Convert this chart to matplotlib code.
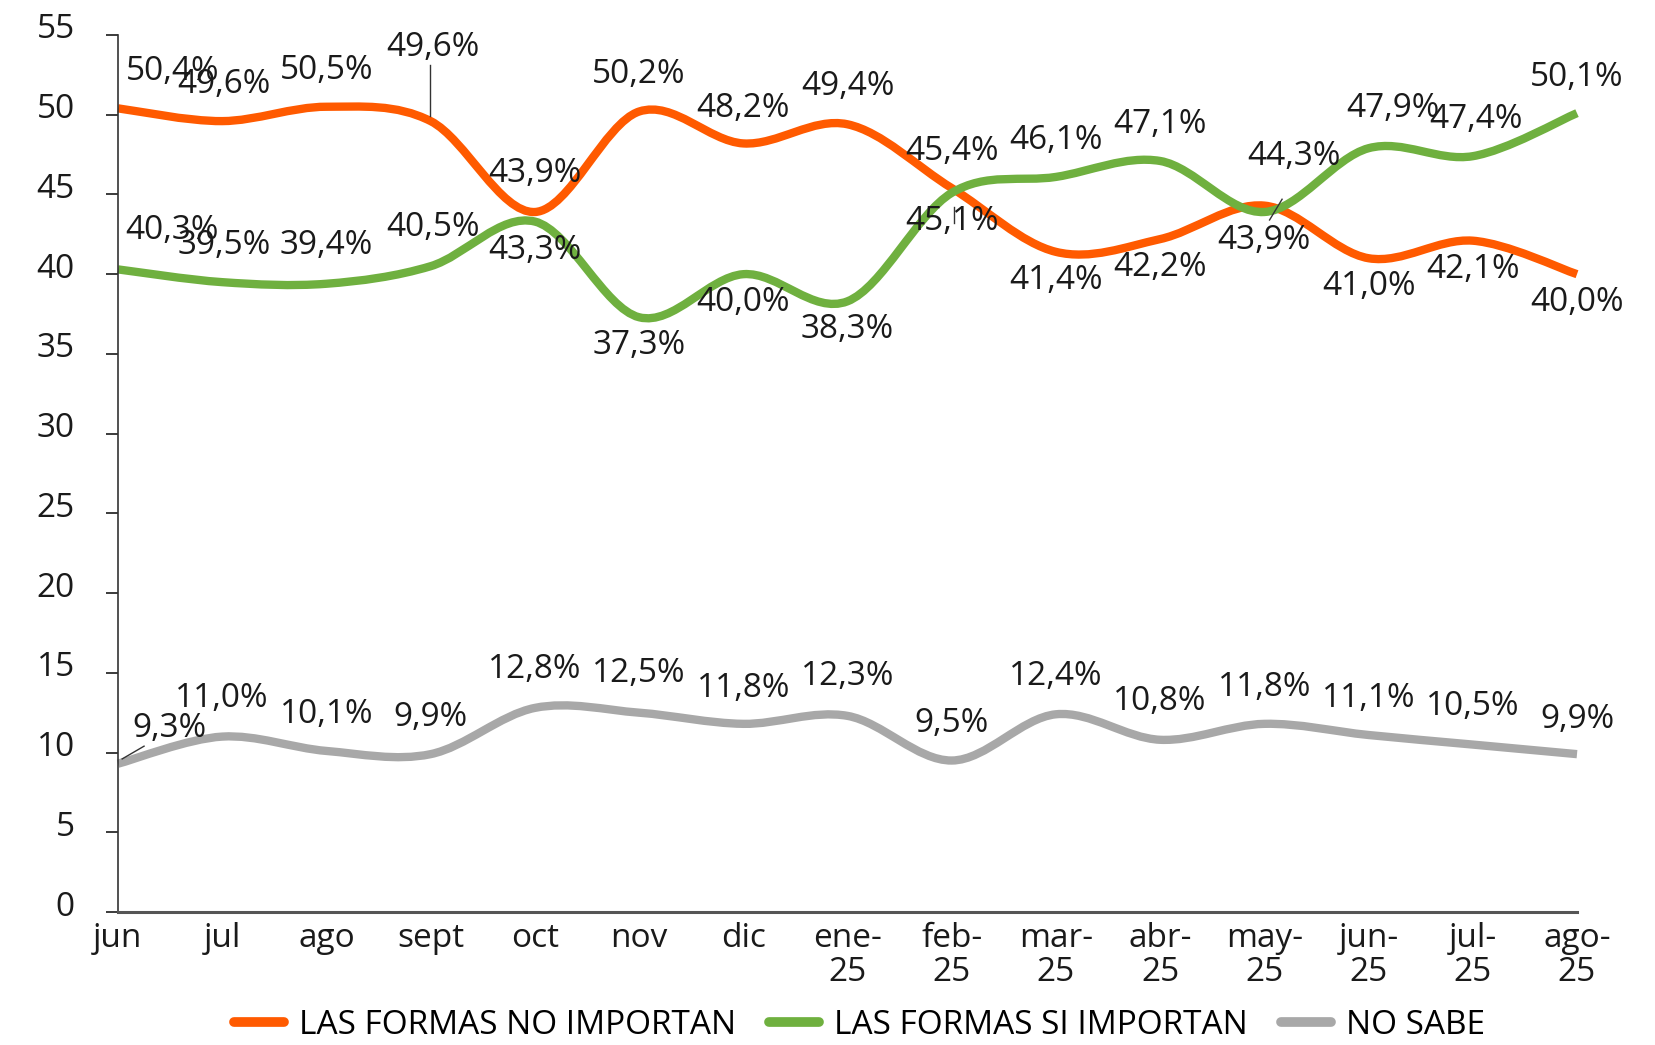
import matplotlib
matplotlib.use("Agg")
import matplotlib.pyplot as plt
from matplotlib.path import Path
from matplotlib.patches import PathPatch
from matplotlib.lines import Line2D
from matplotlib.transforms import ScaledTranslation
import numpy as np

plt.rcParams['font.family'] = ['Open Sans', 'DejaVu Sans']

### Data ###

months = ['jun', 'jul', 'ago', 'sept', 'oct', 'nov', 'dic', 'ene-\n25', 'feb-\n25',
          'mar-\n25', 'abr-\n25', 'may-\n25', 'jun-\n25', 'jul-\n25', 'ago-\n25']

no_importan = [50.4, 49.6, 50.5, 49.6, 43.9, 50.2, 48.2, 49.4, 45.4, 41.4, 42.2, 44.3, 41.0, 42.1, 40.0]
si_importan = [40.3, 39.5, 39.4, 40.5, 43.3, 37.3, 40.0, 38.3, 45.1, 46.1, 47.1, 43.9, 47.9, 47.4, 50.1]
no_sabe = [9.3, 11.0, 10.1, 9.9, 12.8, 12.5, 11.8, 12.3, 9.5, 12.4, 10.8, 11.8, 11.1, 10.5, 9.9]

series_names = ['LAS FORMAS NO IMPORTAN', 'LAS FORMAS SI IMPORTAN', 'NO SABE']
colors = ['#FF5A00', '#6FB03F', '#A8A8A8']

FS = 24

# label placement (dx in months, dy in %-points), A = above, B = below
A, B = 2.3, -1.8
orange_off = [(0.52, A), (0.02, A), (0, A), (0.02, 4.6), (0, 2.4), (0, A), (0, 2.2), (0, 2.4),
              (0, A), (0, B), (0, B), (0.28, 3.1), (0, B), (0, B), (0, B)]
green_off = [(0.52, 2.45), (0.02, A), (0, 2.4), (0.02, 2.45), (0, B), (0, B), (0, B), (0, B),
             (0, B), (0, A), (0, A), (0, B), (0.23, 2.5), (0.03, A), (0, 2.25)]
gray_off = [(0.49, 2.2), (0, 2.4), (0, A), (0, A), (0, 2.4), (0, 2.45), (0, 2.2), (0, 2.5),
            (0, A), (0, 2.4), (0, 2.4), (0, A), (0, A), (0, 2.4), (0, 2.2)]


### Functions ###

def smooth_path(xs, ys):
    """ Excel-like smoothed line: Catmull-Rom segments written as cubic Beziers.
    """
    pts = np.column_stack([xs, ys]).astype(float)
    ext = np.vstack([pts[0], pts, pts[-1]])
    verts = [pts[0]]
    codes = [Path.MOVETO]
    for i in range(len(pts) - 1):
        p0, p1, p2, p3 = ext[i], ext[i + 1], ext[i + 2], ext[i + 3]
        c1 = p1 + (p2 - p0) / 6.0
        c2 = p2 - (p3 - p1) / 6.0
        verts += [c1, c2, p2]
        codes += [Path.CURVE4] * 3
    return Path(verts, codes)


def label_series(ax, xs, ys, offsets):
    for x, y, (dx, dy) in zip(xs, ys, offsets):
        txt = f"{y:.1f}%".replace('.', ',')
        ax.text(x + dx, y + dy, txt, ha='center', va='center', fontsize=FS, color='#1a1a1a')


### Plot ###

fig = plt.figure(figsize=(16.56, 10.45), dpi=100)
ax = fig.add_axes([118 / 1656, 1 - 912 / 1045, (1577 - 118) / 1656, (912 - 35) / 1045])

x = np.arange(len(months))
all_series = [no_importan, si_importan, no_sabe]
all_offsets = [orange_off, green_off, gray_off]

for ys, col, offs in zip(all_series, colors, all_offsets):
    patch = PathPatch(smooth_path(x, ys), facecolor='none', edgecolor=col, lw=6,
                      capstyle='butt', joinstyle='round', clip_on=False)
    ax.add_patch(patch)
    label_series(ax, x, ys, offs)

# leader lines
ax.plot([2.99, 2.99], [53.1, 49.9], color='#333333', lw=1)
ax.plot([11.17, 11.05], [44.7, 43.4], color='#333333', lw=1)
ax.plot([8.02, 8.02], [44.2, 43.2], color='#333333', lw=1)
ax.plot([0.25, 0.04], [10.4, 9.6], color='#333333', lw=1)

ax.set_xlim(0, 14)
ax.set_ylim(0, 55)
ax.set_yticks(np.arange(0, 56, 5))
ax.set_xticks(x)
ax.set_xticklabels(months, fontsize=FS, linespacing=1.05)
ax.tick_params(axis='x', length=0, pad=7, colors='#1a1a1a')
ax.tick_params(axis='y', labelsize=FS, length=9, width=1.2, pad=22, colors='#1a1a1a')

shift = ScaledTranslation(0, 9 / 100, fig.dpi_scale_trans)
for lab in ax.get_yticklabels():
    lab.set_transform(lab.get_transform() + shift)

for side in ['top', 'right']:
    ax.spines[side].set_visible(False)
ax.spines['left'].set_color('#333333')
ax.spines['left'].set_linewidth(1.2)
ax.spines['bottom'].set_color('#555555')
ax.spines['bottom'].set_linewidth(2.2)

handles = [Line2D([], [], color=c, lw=7, solid_capstyle='round') for c in colors]
fig.legend(handles, series_names, loc='center', bbox_to_anchor=(0.519, 0.019), ncol=3,
           frameon=False, fontsize=FS, handlelength=1.5, handletextpad=0.45, columnspacing=1.0)

fig.savefig('out.png', dpi=100)
